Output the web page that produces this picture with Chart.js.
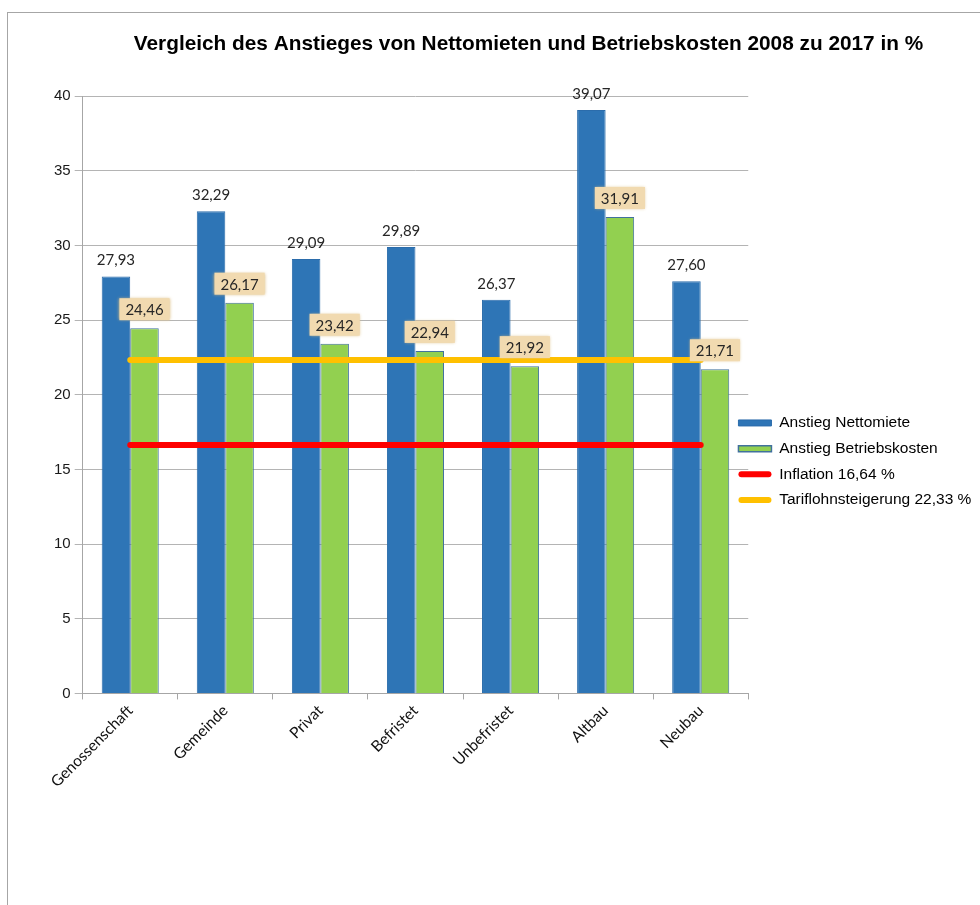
<!DOCTYPE html>
<html>
<head>
<meta charset="utf-8">
<script src="https://cdn.jsdelivr.net/npm/chart.js@4.4.1/dist/chart.umd.min.js"></script>
<style>
  body { margin: 0; background: #fff; overflow: hidden; }
  #frame { position: absolute; left: 7px; top: 12px; width: 1100px; height: 1000px; border: 1px solid #a6a6a6; }
  #box { position: absolute; left: 0; top: 0; width: 973px; height: 892px; }
</style>
</head>
<body>
<div id="frame"><div id="box"><canvas id="chart"></canvas></div></div>
<script>
// categories and values
var categories = ['Genossenschaft', 'Gemeinde', 'Privat', 'Befristet', 'Unbefristet', 'Altbau', 'Neubau'];
var nettomiete = [27.93, 32.29, 29.09, 29.89, 26.37, 39.07, 27.60];
var betriebskosten = [24.46, 26.17, 23.42, 22.94, 21.92, 31.91, 21.71];
var inflation = 16.64;
var tariflohn = 22.33;
var yTicks = [0, 5, 10, 15, 20, 25, 30, 35, 40];

var blue = '#2e75b6', green = '#92d050', red = '#ff0000', orange = '#ffc000';

// german number format
function fmt(v) {
    return v.toFixed(2).replace('.', ',');
}

// value labels above the bars
var valueLabels = {
    id: 'valueLabels',
    afterDatasetsDraw: function (chart) {
        var ctx = chart.ctx;
        ctx.save();
        ctx.font = '15px Lato';
        ctx.textAlign = 'center';
        [0, 1].forEach(function (di) {
            var meta = chart.getDatasetMeta(di);
            meta.data.forEach(function (bar, i) {
                var txt = fmt(chart.data.datasets[di].data[i]);
                if (di === 1) {
                    var w = ctx.measureText(txt).width + 12, h = 22;
                    var bottom = bar.y - 8;
                    ctx.shadowColor = 'rgba(220,190,130,0.9)';
                    ctx.shadowBlur = 3;
                    ctx.fillStyle = '#f1dab0';
                    ctx.fillRect(bar.x - w / 2, bottom - h, w, h);
                    ctx.shadowBlur = 0;
                    ctx.fillStyle = '#262626';
                    ctx.textBaseline = 'middle';
                    ctx.fillText(txt, bar.x, bottom - h / 2 + 1);
                } else {
                    ctx.fillStyle = '#262626';
                    ctx.textBaseline = 'alphabetic';
                    ctx.fillText(txt, bar.x, bar.y - 11);
                }
            });
        });
        ctx.restore();
    }
};

// move title and legend to where the original has them
var nudge = {
    id: 'nudge',
    afterLayout: function (chart) {
        var t = chart.titleBlock;
        t.left += 13; t.right += 13;
        var l = chart.legend;
        l.left -= 20;
        l.top += 58.5; l.bottom += 58.5;
    }
};

new Chart(document.getElementById('chart'), {
    type: 'bar',
    data: {
        labels: categories,
        datasets: [{
            label: 'Anstieg Nettomiete',
            data: nettomiete,
            backgroundColor: blue,
            borderColor: '#2b6cab',
            borderWidth: 1,
            order: 1
        }, {
            label: 'Anstieg Betriebskosten',
            data: betriebskosten,
            backgroundColor: green,
            borderColor: '#41719c',
            borderWidth: 1,
            order: 1
        }, {
            type: 'line',
            label: 'Inflation 16,64 %',
            data: categories.map(function () { return inflation; }),
            borderColor: red,
            borderWidth: 6,
            borderCapStyle: 'round',
            pointRadius: 0,
            order: 0
        }, {
            type: 'line',
            label: 'Tariflohnsteigerung 22,33 %',
            data: categories.map(function () { return tariflohn; }),
            borderColor: orange,
            borderWidth: 6,
            borderCapStyle: 'round',
            pointRadius: 0,
            order: 0
        }]
    },
    options: {
        responsive: true,
        maintainAspectRatio: false,
        animation: false,
        datasets: {
            bar: { barPercentage: 1, categoryPercentage: 0.6 }
        },
        layout: { padding: { left: 42, top: 0, right: 0, bottom: 112 } },
        scales: {
            x: {
                grid: { drawOnChartArea: false, color: '#a6a6a6', tickLength: 6, offset: true },
                border: { color: '#a6a6a6' },
                ticks: {
                    minRotation: 45, maxRotation: 45, padding: 2,
                    color: '#111',
                    font: { family: 'Lato', size: 15.5 }
                }
            },
            y: {
                min: 0, max: 40,
                afterBuildTicks: function (axis) {
                    axis.ticks = yTicks.map(function (v) { return { value: v }; });
                },
                grid: { color: '#b4b4b4', tickLength: 8 },
                border: { color: '#a6a6a6' },
                ticks: {
                    padding: 4,
                    color: '#1a1a1a',
                    font: { family: 'Liberation Sans', size: 15 }
                }
            }
        },
        plugins: {
            title: {
                display: true,
                text: 'Vergleich des Anstieges von Nettomieten und Betriebskosten 2008 zu 2017 in %',
                color: '#000',
                font: { family: 'Liberation Sans', size: 20.8, weight: 'bold' },
                padding: { top: 19, bottom: 39.2 }
            },
            legend: {
                position: 'right',
                labels: {
                    font: { family: 'Liberation Sans', size: 15.5 },
                    boxWidth: 33,
                    boxHeight: 6,
                    padding: 10.2,
                    generateLabels: function () {
                        return [
                            { text: 'Anstieg Nettomiete', fillStyle: blue, strokeStyle: '#2b6cab', lineWidth: 1, fontColor: '#000', datasetIndex: 0 },
                            { text: 'Anstieg Betriebskosten', fillStyle: green, strokeStyle: '#41719c', lineWidth: 1.5, fontColor: '#000', datasetIndex: 1 },
                            { text: 'Inflation 16,64 %', fillStyle: red, strokeStyle: red, lineWidth: 0, borderRadius: 3, fontColor: '#000', datasetIndex: 2 },
                            { text: 'Tariflohnsteigerung 22,33 %', fillStyle: orange, strokeStyle: orange, lineWidth: 0, borderRadius: 3, fontColor: '#000', datasetIndex: 3 }
                        ];
                    }
                }
            },
            tooltip: { enabled: false }
        }
    },
    plugins: [valueLabels, nudge]
});
</script>
</body>
</html>
